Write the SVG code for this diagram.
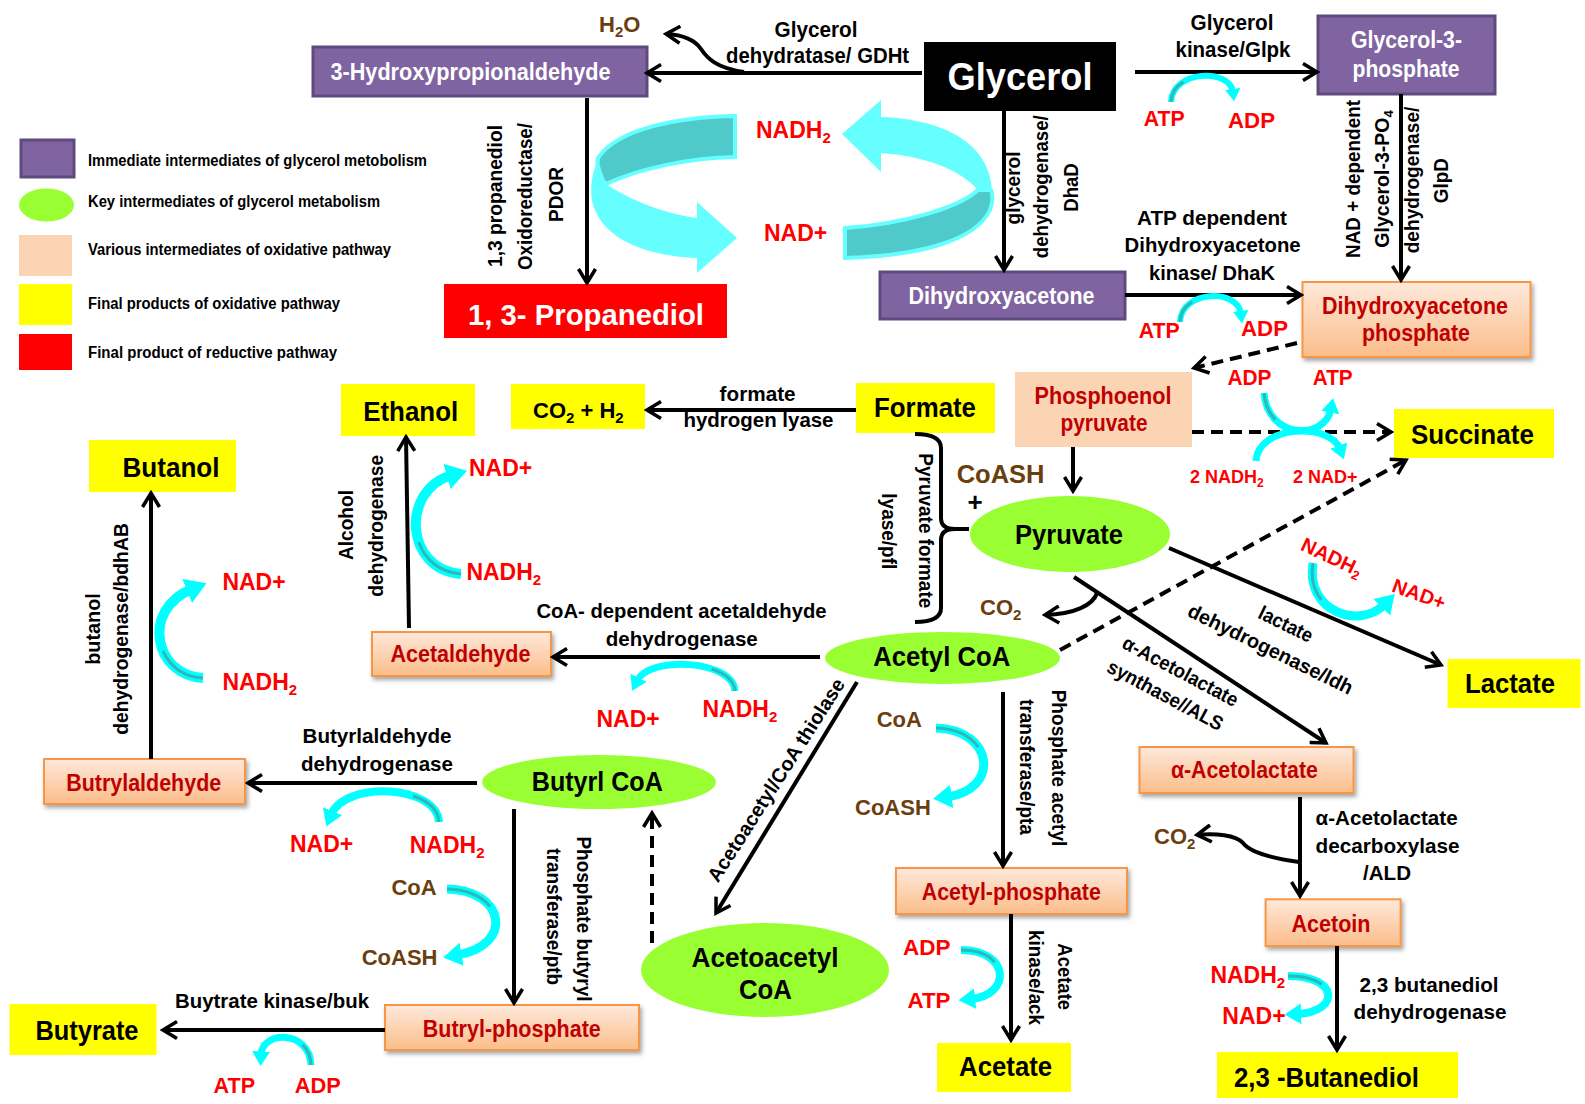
<svg xmlns="http://www.w3.org/2000/svg" width="1585" height="1104" viewBox="0 0 1585 1104">
<defs>
<style>
text{font-family:"Liberation Sans",Arial,sans-serif;font-weight:700}
.c{text-anchor:middle}
.w{fill:#fff}
.r{fill:#f00}
.b{fill:#6B3E10}
.d{fill:#C00000}
.pur{fill:#8064A2;stroke:#5F4A7D;stroke-width:3}
.pea{fill:url(#pg);stroke:#F79646;stroke-width:2;filter:url(#sh)}
.yel{fill:#ff0}
.key{fill:#99FF33}
.ln{stroke:#000;stroke-width:4;fill:none;marker-end:url(#ah)}
.ds{stroke-dasharray:12 7}
.cy{stroke:#00FFFF;fill:none;marker-end:url(#ca)}
.cs{stroke:#2FB8B8;fill:none;stroke-width:3}
</style>
<linearGradient id="pg" x1="0" y1="0" x2="0" y2="1"><stop offset="0" stop-color="#FEE9DB"/><stop offset="1" stop-color="#FBBD8A"/></linearGradient>
<filter id="sh" x="-10%" y="-10%" width="130%" height="150%"><feDropShadow dx="2" dy="3" stdDeviation="2" flood-color="#000" flood-opacity="0.35"/></filter>
<marker id="ah" viewBox="0 0 20 20" refX="17" refY="10" markerWidth="20" markerHeight="20" markerUnits="userSpaceOnUse" orient="auto"><path d="M3,1.5 L17,10 L3,18.5" fill="none" stroke="#000" stroke-width="3.5"/></marker>
<marker id="ca" viewBox="0 0 10 10" refX="2" refY="5" markerWidth="2.6" markerHeight="2.6" orient="auto" markerUnits="strokeWidth"><path d="M0,0 L8,5 L0,10 Z" fill="#00FFFF"/></marker>
</defs>
<rect width="1585" height="1104" fill="#fff"/>

<g id="legend">
<rect x="21" y="140" width="53" height="37" class="pur" stroke-width="4"/>
<ellipse cx="46.5" cy="205" rx="27.5" ry="16.5" class="key"/>
<rect x="19" y="235" width="53" height="41" fill="#FBD4B4"/>
<rect x="19" y="284" width="53" height="41" class="yel"/>
<rect x="19" y="334" width="53" height="36" fill="#f00"/>
<text x="88" y="166" font-size="16" textLength="339" lengthAdjust="spacingAndGlyphs">Immediate intermediates of glycerol metobolism</text>
<text x="88" y="207" font-size="16" textLength="292" lengthAdjust="spacingAndGlyphs">Key intermediates of glycerol metabolism</text>
<text x="88" y="255" font-size="16" textLength="303" lengthAdjust="spacingAndGlyphs">Various intermediates of oxidative pathway</text>
<text x="88" y="309" font-size="16" textLength="252" lengthAdjust="spacingAndGlyphs">Final products of oxidative pathway</text>
<text x="88" y="358" font-size="16" textLength="249" lengthAdjust="spacingAndGlyphs">Final product of reductive  pathway</text>
</g>

<g id="cycle">
<path d="M735,116 C680,117 618,128 598,158 C596,168 600,178 606,184 C640,168 690,158 735,157 Z" fill="#4FC9C9" stroke="#66FFFF" stroke-width="4"/>
<path d="M606,184 C630,200 665,214 697,218 L697,202 L737,238 L697,273 L697,258 C650,256 605,242 593,205 C589,190 592,172 598,160 Z" fill="#66FFFF"/>
<path d="M881,100 L842,134 L881,172 L881,153 C920,156 958,167 978,190 L992,190 C990,150 955,120 881,117 Z" fill="#66FFFF"/>
<path d="M978,190 C960,207 905,224 845,228 L845,258 C915,256 975,242 990,210 C993,202 993,195 991,190 Z" fill="#4FC9C9" stroke="#66FFFF" stroke-width="4"/>
<text class="r" x="756" y="138" font-size="23">NADH<tspan font-size="15" dy="5">2</tspan></text>
<text class="r" x="764" y="241" font-size="23">NAD+</text>
</g>

<g id="n-3hpa"><rect x="313" y="47" width="334" height="49" class="pur"/><text class="c w" x="470.5" y="80" font-size="23" textLength="280" lengthAdjust="spacingAndGlyphs">3-Hydroxypropionaldehyde</text></g>
<g id="n-glycerol"><rect x="924" y="42" width="192" height="69" fill="#000"/><text class="c w" x="1020" y="90" font-size="38" textLength="145" lengthAdjust="spacingAndGlyphs">Glycerol</text></g>
<g id="n-g3p"><rect x="1318" y="16" width="177" height="78" class="pur"/><text class="c w" x="1406.5" y="48" font-size="23" textLength="111" lengthAdjust="spacingAndGlyphs">Glycerol-3-</text><text class="c w" x="1406" y="77" font-size="23" textLength="107" lengthAdjust="spacingAndGlyphs">phosphate</text></g>
<g id="n-pdo"><rect x="444" y="284" width="283" height="54" fill="#f00"/><text class="c w" x="586" y="325" font-size="30" textLength="236" lengthAdjust="spacingAndGlyphs">1, 3- Propanediol</text></g>
<g id="n-dha"><rect x="880" y="272" width="245" height="47" class="pur"/><text class="c w" x="1001.5" y="304" font-size="23" textLength="186" lengthAdjust="spacingAndGlyphs">Dihydroxyacetone</text></g>
<g id="n-dhap"><rect x="1302.5" y="282" width="228" height="75" class="pea"/><text class="c d" x="1415" y="314" font-size="23" textLength="186" lengthAdjust="spacingAndGlyphs">Dihydroxyacetone</text><text class="c d" x="1416" y="341" font-size="23" textLength="108" lengthAdjust="spacingAndGlyphs">phosphate</text></g>
<g id="n-pep"><rect x="1015" y="372" width="177" height="75" fill="#FBD4B4"/><text class="c d" x="1103" y="404" font-size="23" textLength="137" lengthAdjust="spacingAndGlyphs">Phosphoenol</text><text class="c d" x="1104" y="431" font-size="23" textLength="87" lengthAdjust="spacingAndGlyphs">pyruvate</text></g>
<g id="n-ethanol"><rect x="341" y="384" width="134" height="52" class="yel"/><text class="c" x="410.7" y="420.7" font-size="28" textLength="95" lengthAdjust="spacingAndGlyphs">Ethanol</text></g>
<g id="n-co2h2"><rect x="511" y="384" width="134" height="45" class="yel"/><text x="533" y="418" font-size="22">CO<tspan font-size="15" dy="5">2</tspan><tspan dy="-5"> + H</tspan><tspan font-size="15" dy="5">2</tspan></text></g>
<g id="n-formate"><rect x="856" y="383" width="139" height="50" class="yel"/><text class="c" x="925" y="417.3" font-size="28" textLength="102" lengthAdjust="spacingAndGlyphs">Formate</text></g>
<g id="n-butanol"><rect x="89" y="440" width="147" height="52" class="yel"/><text class="c" x="171" y="476.7" font-size="28" textLength="97" lengthAdjust="spacingAndGlyphs">Butanol</text></g>
<g id="n-succinate"><rect x="1394" y="409" width="160" height="49" class="yel"/><text class="c" x="1472.4" y="444" font-size="28" textLength="123" lengthAdjust="spacingAndGlyphs">Succinate</text></g>
<g id="n-pyruvate"><ellipse cx="1070" cy="534" rx="100" ry="38" class="key"/><text class="c" x="1069" y="544.3" font-size="27" textLength="108" lengthAdjust="spacingAndGlyphs">Pyruvate</text></g>
<g id="n-acetaldehyde"><rect x="372" y="632" width="179" height="44" class="pea"/><text class="c d" x="460.4" y="661.7" font-size="23" textLength="140" lengthAdjust="spacingAndGlyphs">Acetaldehyde</text></g>
<g id="n-acetylcoa"><ellipse cx="942.5" cy="658" rx="117.5" ry="26" class="key"/><text class="c" x="941.7" y="666" font-size="28" textLength="137" lengthAdjust="spacingAndGlyphs">Acetyl CoA</text></g>
<g id="n-lactate"><rect x="1447.5" y="659" width="133" height="49" class="yel"/><text class="c" x="1510" y="693.3" font-size="28" textLength="90" lengthAdjust="spacingAndGlyphs">Lactate</text></g>
<g id="n-acetolactate"><rect x="1139.5" y="747" width="214" height="46" class="pea"/><text class="c d" x="1244.4" y="778.3" font-size="23" textLength="147" lengthAdjust="spacingAndGlyphs">α-Acetolactate</text></g>
<g id="n-butyraldehyde"><rect x="44" y="759" width="201" height="45" class="pea"/><text class="c d" x="143.7" y="790.7" font-size="23" textLength="155" lengthAdjust="spacingAndGlyphs">Butrylaldehyde</text></g>
<g id="n-butyrylcoa"><ellipse cx="599" cy="782" rx="117" ry="27" class="key"/><text class="c" x="597.3" y="791" font-size="28" textLength="131" lengthAdjust="spacingAndGlyphs">Butyrl CoA</text></g>
<g id="n-acetylp"><rect x="896" y="868" width="231" height="46" class="pea"/><text class="c d" x="1011.3" y="900" font-size="23" textLength="179" lengthAdjust="spacingAndGlyphs">Acetyl-phosphate</text></g>
<g id="n-acetoin"><rect x="1265.6" y="899.3" width="135" height="46.7" class="pea"/><text class="c d" x="1331" y="931.7" font-size="23" textLength="79" lengthAdjust="spacingAndGlyphs">Acetoin</text></g>
<g id="n-acetoacetylcoa"><ellipse cx="765" cy="970" rx="124" ry="47" class="key"/><text class="c" x="765" y="967" font-size="27" textLength="147" lengthAdjust="spacingAndGlyphs">Acetoacetyl</text><text class="c" x="765.4" y="999" font-size="27" textLength="53" lengthAdjust="spacingAndGlyphs">CoA</text></g>
<g id="n-butyrate"><rect x="9.5" y="1004" width="147" height="51" class="yel"/><text class="c" x="87" y="1040" font-size="28" textLength="103" lengthAdjust="spacingAndGlyphs">Butyrate</text></g>
<g id="n-butyrylp"><rect x="385" y="1005" width="254" height="45" class="pea"/><text class="c d" x="511.8" y="1036.7" font-size="23" textLength="178" lengthAdjust="spacingAndGlyphs">Butryl-phosphate</text></g>
<g id="n-acetate"><rect x="937" y="1043" width="134" height="49" class="yel"/><text class="c" x="1005.6" y="1076" font-size="28" textLength="93" lengthAdjust="spacingAndGlyphs">Acetate</text></g>
<g id="n-butanediol"><rect x="1217" y="1052" width="241" height="46" class="yel"/><text class="c" x="1326.4" y="1086.7" font-size="28" textLength="185" lengthAdjust="spacingAndGlyphs">2,3 -Butanediol</text></g>

<g id="connectors">
<path class="ln" d="M922,73 L647,73"/>
<path class="ln" d="M744,72 C716,68 707,58 701,49 C695,40 685,35 666,34"/>
<path class="ln" d="M1135,72 L1317,72"/>
<path class="ln" d="M1004,111 L1004,270"/>
<path class="ln" d="M587,98 L587,283"/>
<path class="ln" d="M1401,94 L1401,280"/>
<path class="ln" d="M1125,295 L1301,295"/>
<path class="ln ds" d="M1297,343 L1194,368"/>
<path class="ln" d="M856,410 L647,410"/>
<path class="ln" d="M1073,447 L1073,491"/>
<path class="ln ds" d="M1192,432 L1391,432"/>
<path class="ln ds" d="M1060,650 L1406,460"/>
<path class="ln" d="M1169,548 L1441,665"/>
<path class="ln" d="M1074,577 L1326,743"/>
<path class="ln" d="M1097,593 C1093,605 1075,614 1045,615"/>
<path class="ln" d="M820,657 L553,657"/>
<path class="ln" d="M409,628 L406,437"/>
<path class="ln" d="M151,759 L151,493"/>
<path class="ln" d="M477,783 L248,783"/>
<path class="ln" d="M857,682 L716,913"/>
<path class="ln ds" d="M652,943 L652,813"/>
<path class="ln" d="M514,809 L514,1003"/>
<path class="ln" d="M385,1030 L163,1030"/>
<path class="ln" d="M1003,692 L1003,866"/>
<path class="ln" d="M1011,914 L1011,1040"/>
<path class="ln" d="M1300,797 L1300,896"/>
<path class="ln" d="M1299,862 C1270,858 1250,852 1243,843 C1236,835 1215,833 1197,835"/>
<path class="ln" d="M1337,946 L1337,1050"/>
<path d="M915,434 Q941,434 941,448 L941,518 Q941,529 955,529 L969,529 M955,529 Q941,529 941,540 L941,608 Q941,622 915,622" fill="none" stroke="#000" stroke-width="4"/>
</g>

<g id="cofactor-arrows">
<path class="cy" stroke-width="6" d="M1171,102 C1172,70 1230,68 1233,92"/>
<path class="cy" stroke-width="6" d="M1180,322 C1181,290 1238,288 1241,314"/>
<path class="cy" stroke-width="7" d="M1264,393 C1268,440 1325,440 1331,409"/>
<path class="cy" stroke-width="7" d="M1256,461 C1258,425 1330,422 1340,449"/>
<path class="cy" stroke-width="9" d="M1313,563 C1305,612 1360,630 1385,604"/>
<path class="cy" stroke-width="10" d="M203,678 C155,676 140,610 192,589"/>
<path class="cy" stroke-width="10" d="M461,574 C405,570 400,490 452,475"/>
<path class="cy" stroke-width="7" d="M735,691 C733,660 650,655 637,681"/>
<path class="cy" stroke-width="8" d="M439,822 C437,785 345,780 331,815"/>
<path class="cy" stroke-width="9" d="M447,889 C505,890 515,945 457,955"/>
<path class="cy" stroke-width="7" d="M311,1065 C310,1030 262,1030 261,1055"/>
<path class="cy" stroke-width="9" d="M936,728 C995,730 1000,790 947,797"/>
<path class="cy" stroke-width="8" d="M961,950 C1010,950 1012,995 971,999"/>
<path class="cy" stroke-width="8" d="M1288,976 C1340,976 1340,1012 1297,1014"/>
<path class="cs" pathLength="100" stroke-dasharray="40 100" d="M203,678 C155,676 140,610 192,589"/>
<path class="cs" pathLength="100" stroke-dasharray="40 100" d="M461,574 C405,570 400,490 452,475"/>
<path class="cs" pathLength="100" stroke-dasharray="40 100" d="M447,889 C505,890 515,945 457,955"/>
<path class="cs" pathLength="100" stroke-dasharray="40 100" d="M936,728 C995,730 1000,790 947,797"/>
<path class="cs" pathLength="100" stroke-dasharray="40 100" d="M961,950 C1010,950 1012,995 971,999"/>
<path class="cs" pathLength="100" stroke-dasharray="40 100" d="M1288,976 C1340,976 1340,1012 1297,1014"/>
<path class="cs" pathLength="100" stroke-dasharray="35 100" d="M1313,563 C1305,612 1360,630 1385,604"/>
<path class="cs" pathLength="100" stroke-dasharray="30 100" d="M735,691 C733,660 650,655 637,681"/>
<path class="cs" pathLength="100" stroke-dasharray="30 100" d="M439,822 C437,785 345,780 331,815"/>
<path class="cs" pathLength="100" stroke-dasharray="30 100" d="M311,1065 C310,1030 262,1030 261,1055"/>
<path class="cs" pathLength="100" stroke-dasharray="30 100" d="M1264,393 C1268,440 1325,440 1331,409"/>
<path class="cs" pathLength="100" stroke-dasharray="30 100" d="M1171,102 C1172,70 1230,68 1233,92"/>
<path class="cs" pathLength="100" stroke-dasharray="30 100" d="M1180,322 C1181,290 1238,288 1241,314"/>
</g>

<g id="labels">
<text class="b" x="599" y="31.7" font-size="22">H<tspan font-size="15" dy="5">2</tspan><tspan dy="-5">O</tspan></text>
<text class="c" x="816" y="36.7" font-size="22" textLength="83" lengthAdjust="spacingAndGlyphs">Glycerol</text>
<text class="c" x="817.6" y="63.3" font-size="22" textLength="183" lengthAdjust="spacingAndGlyphs">dehydratase/ GDHt</text>
<text class="c" x="1232" y="30" font-size="22" textLength="83" lengthAdjust="spacingAndGlyphs">Glycerol</text>
<text class="c" x="1233" y="57.3" font-size="22" textLength="115" lengthAdjust="spacingAndGlyphs">kinase/Glpk</text>
<text class="r" x="1143.8" y="126" font-size="22" textLength="41" lengthAdjust="spacingAndGlyphs">ATP</text>
<text class="r" x="1228" y="128.3" font-size="22" textLength="47" lengthAdjust="spacingAndGlyphs">ADP</text>
<text transform="translate(502,196) rotate(-90)" class="c" font-size="20" textLength="142" lengthAdjust="spacingAndGlyphs">1,3 propanediol</text>
<text transform="translate(532,196.5) rotate(-90)" class="c" font-size="20" textLength="147" lengthAdjust="spacingAndGlyphs">Oxidoreductase/</text>
<text transform="translate(563,194.5) rotate(-90)" class="c" font-size="20" textLength="55" lengthAdjust="spacingAndGlyphs">PDOR</text>
<text transform="translate(1020,188) rotate(-90)" class="c" font-size="20" textLength="73" lengthAdjust="spacingAndGlyphs">glycerol</text>
<text transform="translate(1047.5,186.7) rotate(-90)" class="c" font-size="20" textLength="143" lengthAdjust="spacingAndGlyphs">dehydrogenase/</text>
<text transform="translate(1078,187.5) rotate(-90)" class="c" font-size="20" textLength="48.5" lengthAdjust="spacingAndGlyphs">DhaD</text>
<text transform="translate(1359.5,179) rotate(-90)" class="c" font-size="20" textLength="158" lengthAdjust="spacingAndGlyphs">NAD + dependent</text>
<text transform="translate(1388.5,179) rotate(-90)" class="c" font-size="19.5">Glycerol-3-PO<tspan font-size="13" dy="4">4</tspan></text>
<text transform="translate(1419,180) rotate(-90)" class="c" font-size="20" textLength="146.7" lengthAdjust="spacingAndGlyphs">dehydrogenase/</text>
<text transform="translate(1448,180.7) rotate(-90)" class="c" font-size="20" textLength="45" lengthAdjust="spacingAndGlyphs">GlpD</text>
<text class="c" x="1212" y="225" font-size="21" textLength="150" lengthAdjust="spacingAndGlyphs">ATP dependent</text>
<text class="c" x="1212.6" y="252.3" font-size="21" textLength="176" lengthAdjust="spacingAndGlyphs">Dihydroxyacetone</text>
<text class="c" x="1212" y="280" font-size="21" textLength="126" lengthAdjust="spacingAndGlyphs">kinase/ DhaK</text>
<text class="r" x="1138.7" y="338.3" font-size="22" textLength="41" lengthAdjust="spacingAndGlyphs">ATP</text>
<text class="r" x="1241" y="336" font-size="22" textLength="47" lengthAdjust="spacingAndGlyphs">ADP</text>
<text class="c" x="757.6" y="400.7" font-size="21" textLength="76" lengthAdjust="spacingAndGlyphs">formate</text>
<text class="c" x="758.5" y="427.3" font-size="21" textLength="150" lengthAdjust="spacingAndGlyphs">hydrogen lyase</text>
<text class="r" x="1227.4" y="385" font-size="22" textLength="44" lengthAdjust="spacingAndGlyphs">ADP</text>
<text class="r" x="1312.7" y="385" font-size="22" textLength="40" lengthAdjust="spacingAndGlyphs">ATP</text>
<text class="r" x="1190" y="482.7" font-size="18">2 NADH<tspan font-size="12" dy="4">2</tspan></text>
<text class="r" x="1293" y="482.7" font-size="18">2 NAD+</text>
<text transform="translate(918.7,530.8) rotate(90)" class="c" font-size="20" textLength="155" lengthAdjust="spacingAndGlyphs">Pyruvate formate</text>
<text transform="translate(882.4,531.3) rotate(90)" class="c" font-size="20" textLength="76" lengthAdjust="spacingAndGlyphs">lyase/pfl</text>
<text class="b" x="956.7" y="482.7" font-size="25.5">CoASH</text>
<text class="c" x="975" y="511" font-size="26">+</text>
<text class="b" x="980" y="615" font-size="22">CO<tspan font-size="15" dy="5">2</tspan></text>
<text class="r" x="469" y="476" font-size="23">NAD+</text>
<text class="r" x="466.4" y="580" font-size="23">NADH<tspan font-size="15" dy="5">2</tspan></text>
<text transform="translate(352.5,525) rotate(-90)" class="c" font-size="20" textLength="70" lengthAdjust="spacingAndGlyphs">Alcohol</text>
<text transform="translate(383,525.8) rotate(-90)" class="c" font-size="20" textLength="141.7" lengthAdjust="spacingAndGlyphs">dehydrogenase</text>
<text class="r" x="222.4" y="590" font-size="23">NAD+</text>
<text class="r" x="222.4" y="690" font-size="23">NADH<tspan font-size="15" dy="5">2</tspan></text>
<text transform="translate(100,629) rotate(-90)" class="c" font-size="20" textLength="71.7" lengthAdjust="spacingAndGlyphs">butanol</text>
<text transform="translate(128,629) rotate(-90)" class="c" font-size="20" textLength="211.7" lengthAdjust="spacingAndGlyphs">dehydrogenase/bdhAB</text>
<text class="c" x="681.5" y="618.3" font-size="21" textLength="290" lengthAdjust="spacingAndGlyphs">CoA- dependent acetaldehyde</text>
<text class="c" x="681.8" y="646" font-size="21" textLength="152" lengthAdjust="spacingAndGlyphs">dehydrogenase</text>
<text class="r" x="596.5" y="726.7" font-size="23">NAD+</text>
<text class="r" x="702.5" y="716.7" font-size="23">NADH<tspan font-size="15" dy="5">2</tspan></text>
<text transform="translate(1332,557) rotate(25)" class="r c" x="0" y="7" font-size="20">NADH<tspan font-size="13" dy="4">2</tspan></text>
<text transform="translate(1419,594) rotate(20)" class="r c" x="0" y="7" font-size="20">NAD+</text>
<text transform="translate(1286,624) rotate(26)" class="c" x="0" y="7" font-size="20" textLength="58" lengthAdjust="spacingAndGlyphs">lactate</text>
<text transform="translate(1270.6,649) rotate(26)" class="c" x="0" y="7" font-size="20" textLength="181" lengthAdjust="spacingAndGlyphs">dehydrogenase/ldh</text>
<text transform="translate(1180.6,671) rotate(28)" class="c" x="0" y="7" font-size="20" textLength="128" lengthAdjust="spacingAndGlyphs">α-Acetolactate</text>
<text transform="translate(1165.4,695) rotate(28)" class="c" x="0" y="7" font-size="20" textLength="128" lengthAdjust="spacingAndGlyphs">synthase//ALS</text>
<text transform="translate(776,780) rotate(-57.4)" class="c" x="0" y="7" font-size="20" textLength="237" lengthAdjust="spacingAndGlyphs">Acetoacetyl/CoA thiolase</text>
<text class="b" x="876.7" y="726.7" font-size="22">CoA</text>
<text class="b" x="855" y="815" font-size="22">CoASH</text>
<text transform="translate(1052,768) rotate(90)" class="c" font-size="20" textLength="156.7" lengthAdjust="spacingAndGlyphs">Phosphate acetyl</text>
<text transform="translate(1020.4,767) rotate(90)" class="c" font-size="20" textLength="135.7" lengthAdjust="spacingAndGlyphs">transferase/pta</text>
<text class="c" x="377" y="742.7" font-size="21" textLength="149" lengthAdjust="spacingAndGlyphs">Butyrlaldehyde</text>
<text class="c" x="377" y="770.7" font-size="21" textLength="152" lengthAdjust="spacingAndGlyphs">dehydrogenase</text>
<text class="r" x="290" y="851.7" font-size="23">NAD+</text>
<text class="r" x="409.7" y="853.3" font-size="23">NADH<tspan font-size="15" dy="5">2</tspan></text>
<text class="b" x="391.4" y="895" font-size="22">CoA</text>
<text class="b" x="361.7" y="965" font-size="22">CoASH</text>
<text transform="translate(577,919) rotate(90)" class="c" font-size="20" textLength="165" lengthAdjust="spacingAndGlyphs">Phosphate butyryl</text>
<text transform="translate(547,916.7) rotate(90)" class="c" font-size="20" textLength="136.7" lengthAdjust="spacingAndGlyphs">transferase/ptb</text>
<text class="c" x="272" y="1008.3" font-size="21" textLength="194" lengthAdjust="spacingAndGlyphs">Buytrate kinase/buk</text>
<text class="r" x="213.6" y="1093.3" font-size="22" textLength="41.6" lengthAdjust="spacingAndGlyphs">ATP</text>
<text class="r" x="294.7" y="1093.3" font-size="22" textLength="46" lengthAdjust="spacingAndGlyphs">ADP</text>
<text class="r" x="903" y="955" font-size="22" textLength="47.5" lengthAdjust="spacingAndGlyphs">ADP</text>
<text class="r" x="907.5" y="1008.3" font-size="22" textLength="43" lengthAdjust="spacingAndGlyphs">ATP</text>
<text transform="translate(1029,977.5) rotate(90)" class="c" font-size="20" textLength="95" lengthAdjust="spacingAndGlyphs">kinase/ack</text>
<text transform="translate(1057.6,976.7) rotate(90)" class="c" font-size="20" textLength="66.7" lengthAdjust="spacingAndGlyphs">Acetate</text>
<text class="b" x="1154" y="844" font-size="22">CO<tspan font-size="15" dy="5">2</tspan></text>
<text class="c" x="1386.6" y="825" font-size="21" textLength="142" lengthAdjust="spacingAndGlyphs">α-Acetolactate</text>
<text class="c" x="1387.5" y="852.7" font-size="21" textLength="144" lengthAdjust="spacingAndGlyphs">decarboxylase</text>
<text class="c" x="1387" y="880" font-size="21" textLength="48" lengthAdjust="spacingAndGlyphs">/ALD</text>
<text class="r" x="1210.4" y="982.7" font-size="23">NADH<tspan font-size="15" dy="5">2</tspan></text>
<text class="r" x="1222.3" y="1024" font-size="23">NAD+</text>
<text class="c" x="1429" y="991.7" font-size="21" textLength="139" lengthAdjust="spacingAndGlyphs">2,3 butanediol</text>
<text class="c" x="1430" y="1019.3" font-size="21" textLength="153" lengthAdjust="spacingAndGlyphs">dehydrogenase</text>
</g>
</svg>
